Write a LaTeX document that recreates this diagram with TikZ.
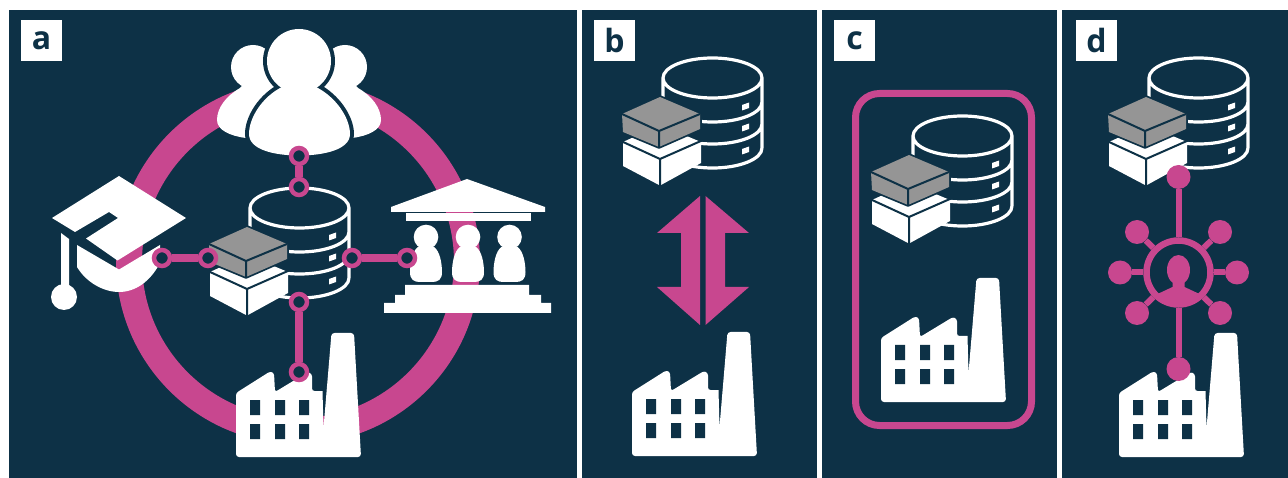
\documentclass[tikz,border=0pt]{standalone}
\usepackage{fontspec}
\setmainfont{Open Sans}
\definecolor{navy}{HTML}{0D3146}
\definecolor{plum}{HTML}{C8478F}
\definecolor{midgray}{HTML}{959595}
\newcommand{\bandarc}[1]{(349,#1) .. controls (349,#1+11) and (327,#1+20) .. (299.5,#1+20) .. controls (272,#1+20) and (250,#1+11) .. (250,#1)}
\tikzset{
  panelbg/.style={fill=navy},
  tagbox/.style={fill=white,minimum size=41pt,inner sep=0pt,text=navy,font=\fontsize{32}{32}\selectfont\bfseries},
  linkdot/.style={circle,fill=navy,draw=plum,line width=4.5pt,minimum size=16pt,inner sep=0pt},
  link/.style={draw=plum,line width=7.5pt},
  soliddot/.style={circle,fill=plum,minimum size=24pt,inner sep=0pt},
  spoke/.style={draw=plum,line width=6pt},
  dbicon/.pic={
    \draw[white,line width=3.2pt,line join=round]
      (299.5,208) ellipse [x radius=49.5pt,y radius=20pt]
      (250,208) -- (250,278) (349,208) -- (349,278)
      \bandarc{232} \bandarc{254} \bandarc{278};
    \fill[white] (329,235) -- (336,232.5) -- (336,238) -- (329,240.5) -- cycle
                 (329,256) -- (336,253.5) -- (336,259) -- (329,261.5) -- cycle
                 (329,279) -- (336,276.5) -- (336,282) -- (329,284.5) -- cycle;
  },
  boxicon/.pic={
    \fill[white] (210,272) -- (247,255) -- (288,272) -- (288,293) -- (248,315) -- (246,315) -- (210,296) -- cycle;
    \draw[navy,line width=2pt] (209,271.5) -- (247,289) -- (289,270.5) (247,289) -- (247,316);
    \draw[navy,line width=3.5pt,line join=round] (209,244) -- (247,227) -- (287,244) -- (287,259) -- (246,277) -- (210,262) -- cycle;
    \fill[midgray] (209,244) -- (247,227) -- (287,244) -- (287,259) -- (246,277) -- (210,262) -- cycle;
    \draw[navy,line width=2pt] (209,244) -- (246,261) -- (287,244) (246,261) -- (246,278);
  },
  factoryicon/.pic={
    \fill[white]
      [rounded corners=2.5pt] (236,457) -- (236,393) -- (270,371.5) -- (274,373) -- (275,392) -- (308,372) -- (312,374) -- (312,391)
      [rounded corners=0pt] -- (322.5,391) -- (323.5,428)
      [rounded corners=3pt] -- (331.5,333) -- (354,333) -- (361,457) -- cycle;
    \fill[navy] (250,400) rectangle (260,415) (275,400) rectangle (285,415) (299,400) rectangle (309,415)
      (250,424) rectangle (260,439) (275,424) rectangle (285,439) (299,424) rectangle (309,439);
  },
  templeperson/.pic={
    \fill[white] (0,237) circle [radius=12.3pt];
    \fill[white] (-8,247) .. controls (-14,251) and (-16,264) .. (-16,272) .. controls (-16,280) and (-12,282) .. (-6,282) -- (6,282) .. controls (12,282) and (16,280) .. (16,272) .. controls (16,264) and (14,251) .. (8,247) -- cycle;
  }
}
\begin{document}
\begin{tikzpicture}[x=1pt,y=-1pt]
\useasboundingbox (0,0) rectangle (1288,478);
\fill[white] (0,0) rectangle (1288,478);
\fill[panelbg] (9,10) rectangle (577,478);
\fill[panelbg] (582,10) rectangle (817,478);
\fill[panelbg] (822,10) rectangle (1057,478);
\fill[panelbg] (1062,10) rectangle (1288,478);
\node[tagbox] (taga) at (41.5,40.5) {a};
\node[tagbox] (tagb) at (614.5,40.5) {b};
\node[tagbox] (tagc) at (854.5,40.5) {c};
\node[tagbox] (tagd) at (1096.5,40.5) {d};
% panel a ring
\draw[plum,line width=26pt] (298,262) circle [radius=169pt];
% people
\fill[white] (253,67) circle [radius=22pt] (345,67) circle [radius=22pt];
\fill[white] (240,88) .. controls (226,96) and (217,108) .. (217,120) .. controls (217,130) and (230,136) .. (246,138) -- (352,138) .. controls (368,136) and (381,130) .. (381,120) .. controls (381,108) and (372,96) .. (358,88) -- (340,70) -- (258,70) -- cycle;
\path[draw=navy,line width=8pt,fill=white] (299,61) circle [radius=32pt];
\path[draw=navy,line width=8pt,fill=white] (282,87) .. controls (262,97) and (249,118) .. (249,134) .. controls (249,150) and (275,155.5) .. (299,155.5) .. controls (323,155.5) and (350,150) .. (350,134) .. controls (350,118) and (336,97) .. (316,87) -- cycle;
\fill[navy] (246,157.5) rectangle (352,165);
\fill[white] (299,61) circle [radius=32pt];
\fill[white] (282,87) .. controls (262,97) and (249,118) .. (249,134) .. controls (249,150) and (275,155.5) .. (299,155.5) .. controls (323,155.5) and (350,150) .. (350,134) .. controls (350,118) and (336,97) .. (316,87) -- (310,80) -- (288,80) -- cycle;
% hat
\fill[white] (52,218) -- (119,176) -- (186,218) -- (117.5,260.5) -- (86,238.5) -- (118,218) -- (109,212) -- (75,232) -- cycle;
\fill[white] (77,245) -- (119,269.5) -- (160,245) -- (160,263) .. controls (150,282) and (135,292) .. (119,292) .. controls (103,292) and (86,282) .. (77,267) -- cycle;
\fill[white] (61,233) -- (69,239) -- (69,287) -- (61,287) -- cycle;
\fill[white] (64,297) circle [radius=13pt];
% temple
\fill[white] (467,179) -- (545,207) -- (545,212) -- (391,212) -- (391,207) -- cycle;
\fill[white] (406,213) rectangle (531,221);
\fill[white] (405,285) rectangle (529,295) (395,295) rectangle (541,303) (384,303) rectangle (551,313);
\pic at (426,0) {templeperson};
\pic at (468,0) {templeperson};
\pic at (509.5,0) {templeperson};
% icons
\pic at (0,0) {factoryicon};
\pic at (0,0) {dbicon};
\pic at (0,0) {boxicon};
% links a
\node[linkdot] (hatdot) at (162,258) {};
\node[linkdot] (boxdot) at (208,258) {};
\node[linkdot] (dbrdot) at (352,258) {};
\node[linkdot] (temdot) at (407,258) {};
\node[linkdot] (pepdot) at (299,156) {};
\node[linkdot] (dbtdot) at (299,187) {};
\node[linkdot] (dbbdot) at (299,302) {};
\node[linkdot] (facdot) at (299,372) {};
\draw[link] (hatdot) -- (boxdot);
\draw[link] (dbrdot) -- (temdot);
\draw[link] (pepdot) -- (dbtdot);
\draw[link] (dbbdot) -- (facdot);
% panel b
\pic at (413,-130) {dbicon};
\pic at (413,-130) {boxicon};
\pic at (396,-1) {factoryicon};
\fill[plum] (700,196) -- (657,233) -- (681,233) -- (681,287) -- (657,287) -- (700,325) -- cycle;
\fill[plum] (705.5,196) -- (749,233) -- (725,233) -- (725,287) -- (749,287) -- (705.5,325) -- cycle;
% panel c
\draw[plum,line width=7pt,rounded corners=24pt] (855.5,93.5) rectangle (1031.5,425.5);
\pic at (663,-72) {dbicon};
\pic at (662,-72) {boxicon};
\pic at (645,-55) {factoryicon};
% panel d
\pic at (899,-130) {dbicon};
\pic at (899,-130) {boxicon};
\pic at (883,0) {factoryicon};
\node[circle,draw=plum,fill=navy,line width=6.5pt,minimum size=64pt,inner sep=0pt] (hub) at (1178.5,272.5) {};
\begin{scope}
\clip (1178.5,272.5) circle [radius=31pt];
\fill[plum] (1178.5,270) ellipse [x radius=11.5pt,y radius=15pt];
\fill[plum] (1172.5,278) -- (1172.5,287) -- (1157.5,294) -- (1157.5,310) -- (1199.5,310) -- (1199.5,294) -- (1184.5,287) -- (1184.5,278) -- cycle;
\end{scope}
\node[soliddot] (sattop) at (1178.5,177) {};
\node[soliddot] (satbot) at (1178.5,369) {};
\node[soliddot] (satl) at (1120,272.5) {};
\node[soliddot] (satr) at (1237,272.5) {};
\node[soliddot] (satul) at (1137,232) {};
\node[soliddot] (satur) at (1220,232) {};
\node[soliddot] (satll) at (1137,313) {};
\node[soliddot] (satlr) at (1220,313) {};
\foreach \s in {sattop,satbot,satl,satr,satul,satur,satll,satlr} \draw[spoke] (hub) -- (\s);
\end{tikzpicture}
\end{document}
